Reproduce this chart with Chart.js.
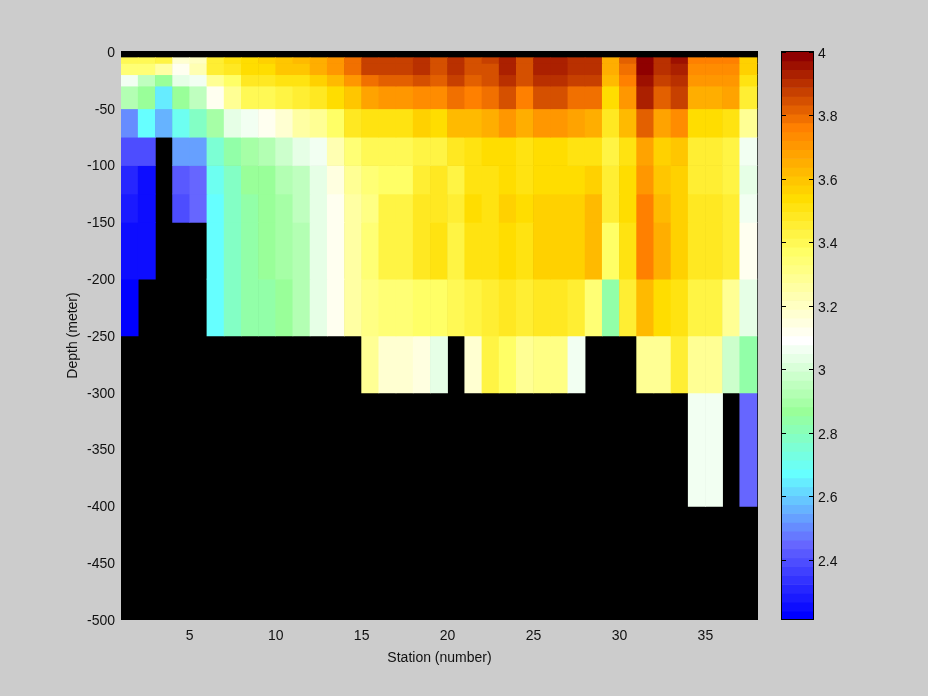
<!DOCTYPE html>
<html>
<head>
<meta charset="utf-8">
<title>Station section</title>
<script src="https://cdn.jsdelivr.net/npm/chart.js@4"></script>
<style>
  html, body { margin: 0; padding: 0; background: #cccccc; width: 928px; height: 696px; overflow: hidden; }
  canvas { position: absolute; top: 0; }
  #section { left: 0; }
  #colorbar { left: 764px; }
</style>
</head>
<body>
<canvas id="section" width="764" height="696"></canvas>
<canvas id="colorbar" width="164" height="696"></canvas>
<script>
// station columns, x runs from station n to station n + 1
const stations = [1,2,3,4,5,6,7,8,9,10,11,12,13,14,15,16,17,18,19,20,21,22,23,24,25,26,27,28,29,30,31,32,33,34,35,36,37];

// depth bands, one row of values each
const bandTop = [-5,-10,-20,-30,-50,-75,-100,-125,-150,-200,-250,-300];
const bandBottom = [-10,-20,-30,-50,-75,-100,-125,-150,-200,-250,-300,-400];

const row5 = [3.40,3.40,3.43,3.17,3.20,3.45,3.51,3.54,3.57,3.59,3.62,3.65,3.71,3.79,3.87,3.87,3.87,3.90,3.85,3.90,3.85,3.87,3.93,3.85,3.93,3.93,3.90,3.90,3.65,3.82,3.99,3.90,3.96,3.76,3.76,3.76,3.57];
const row10 = [3.34,3.34,3.26,3.12,3.23,3.45,3.48,3.54,3.54,3.59,3.59,3.65,3.71,3.79,3.87,3.87,3.87,3.90,3.85,3.90,3.85,3.85,3.93,3.85,3.93,3.93,3.90,3.90,3.65,3.79,3.99,3.90,3.93,3.73,3.73,3.73,3.57];
const row20 = [3.06,2.95,2.87,3.03,3.06,3.29,3.37,3.48,3.48,3.51,3.51,3.57,3.62,3.71,3.79,3.82,3.82,3.85,3.82,3.87,3.82,3.85,3.90,3.85,3.90,3.90,3.87,3.87,3.62,3.76,3.96,3.87,3.90,3.71,3.71,3.71,3.51];
const row30 = [2.92,2.87,2.64,2.87,2.95,3.12,3.29,3.40,3.40,3.43,3.45,3.48,3.54,3.59,3.68,3.71,3.71,3.73,3.73,3.79,3.76,3.79,3.85,3.76,3.85,3.85,3.79,3.79,3.54,3.71,3.93,3.82,3.87,3.65,3.65,3.68,3.45];
const row50 = [2.50,2.67,2.56,2.70,2.78,2.89,3.03,3.06,3.12,3.17,3.26,3.29,3.37,3.48,3.51,3.51,3.51,3.57,3.54,3.62,3.62,3.65,3.71,3.65,3.71,3.71,3.68,3.65,3.48,3.62,3.82,3.68,3.73,3.54,3.54,3.51,3.29];
const row75 = [2.39,2.39,null,2.53,2.53,2.75,2.84,2.89,2.92,2.98,3.03,3.06,3.23,3.34,3.40,3.40,3.40,3.43,3.43,3.48,3.51,3.54,3.54,3.51,3.54,3.54,3.51,3.51,3.43,3.51,3.68,3.57,3.59,3.45,3.45,3.43,3.06];
const row100 = [2.31,2.25,null,2.42,2.45,2.70,2.78,2.87,2.87,2.92,2.95,3.03,3.15,3.29,3.34,3.37,3.37,3.45,3.48,3.43,3.51,3.51,3.54,3.51,3.54,3.54,3.54,3.57,3.45,3.54,3.71,3.59,3.57,3.45,3.45,3.43,3.03];
const row125 = [2.28,2.25,null,2.39,2.45,2.67,2.78,2.84,2.87,2.89,2.95,3.03,3.12,3.26,3.31,3.43,3.43,3.48,3.48,3.45,3.54,3.51,3.57,3.54,3.57,3.57,3.57,3.62,3.45,3.54,3.76,3.62,3.57,3.48,3.48,3.45,3.06];
const row150 = [2.25,2.25,null,null,null,2.67,2.78,2.84,2.87,2.89,2.92,3.03,3.12,3.26,3.34,3.43,3.43,3.48,3.51,3.43,3.51,3.51,3.54,3.51,3.57,3.57,3.57,3.62,3.37,3.51,3.76,3.65,3.57,3.48,3.48,3.45,3.12];
const row200 = [2.22,null,null,null,null,2.67,2.78,2.84,2.84,2.87,2.92,3.03,3.12,3.26,3.31,3.34,3.34,3.37,3.37,3.40,3.43,3.45,3.48,3.45,3.48,3.48,3.45,3.34,2.84,3.45,3.62,3.54,3.51,3.43,3.43,3.29,3.03];
const row250 = [null,null,null,null,null,null,null,null,null,null,null,null,null,null,3.29,3.17,3.17,3.15,3.03,null,3.17,3.43,3.37,3.29,3.31,3.31,3.06,null,null,null,3.29,3.29,3.45,3.29,3.29,2.98,2.84];
const row300 = [null,null,null,null,null,null,null,null,null,null,null,null,null,null,null,null,null,null,null,null,null,null,null,null,null,null,null,null,null,null,null,null,null,3.06,3.06,null,2.45];
const rows = [row5,row10,row20,row30,row50,row75,row100,row125,row150,row200,row250,row300];

const xTicks = [5,10,15,20,25,30,35];
const yTicks = [0,-50,-100,-150,-200,-250,-300,-350,-400,-450,-500];
const barTicks = [4,3.8,3.6,3.4,3.2,3,2.8,2.6,2.4];

// colormap, top of the colorbar first
const cmap = [
  "#8f0000","#9d1000","#ab2000","#b93000","#c74000","#d55000","#e36000","#f17000",
  "#ff8000","#ff8c00","#ff9700","#ffa300","#ffae00","#ffba00","#ffc600","#ffd100",
  "#ffdd00","#ffe311","#ffe822","#ffee33","#fff444","#fff955","#ffff66","#ffff75",
  "#ffff84","#ffff94","#ffffa3","#ffffb2","#ffffc2","#ffffd1","#ffffe0","#fffff0",
  "#ffffff","#f2fff2","#e6ffe6","#d9ffd9","#ccffcc","#bfffbf","#b3ffb3","#a6ffa6",
  "#99ff99","#92ffa8","#8bffb6","#83ffc5","#7cffd4","#75ffe2","#6dfff1","#66ffff",
  "#66ecff","#66d9ff","#66c6ff","#66b3ff","#66a0ff","#668cff","#6679ff","#6666ff",
  "#5959ff","#4d4dff","#4040ff","#3333ff","#2626ff","#1a1aff","#0d0dff","#0000ff"
];
const cMax = 4;
const cMin = 2.21;

function colorFor(v) {
  const i = Math.floor((cMax - v) / (cMax - cMin) * cmap.length);
  return cmap[Math.max(0, Math.min(cmap.length - 1, i))];
}

const textFont = { family: "'Liberation Sans', Arial, sans-serif", size: 14 };
const textColor = "#111111";

// missing cells show the axes background
const blackBackground = {
  id: "blackBackground",
  beforeDraw(chart) {
    const a = chart.chartArea;
    chart.ctx.fillStyle = "#000000";
    chart.ctx.fillRect(a.left, a.top, a.right - a.left, a.bottom - a.top);
  }
};

// box and inward tick marks of the colorbar
const barFrame = {
  id: "barFrame",
  afterDraw(chart) {
    const a = chart.chartArea;
    const ctx = chart.ctx;
    const scale = chart.scales.y;
    ctx.save();
    ctx.strokeStyle = "#000000";
    ctx.lineWidth = 1;
    ctx.strokeRect(a.left + 0.5, a.top + 0.5, a.right - a.left - 1, a.bottom - a.top - 1);
    scale.ticks.forEach((t) => {
      const y = Math.round(scale.getPixelForValue(t.value)) + 0.5;
      ctx.beginPath();
      ctx.moveTo(a.left, y);
      ctx.lineTo(a.left + 5, y);
      ctx.moveTo(a.right - 5, y);
      ctx.lineTo(a.right, y);
      ctx.stroke();
    });
    ctx.restore();
  }
};

const sectionSets = rows.map((row, r) => {
  const cells = [];
  const colors = [];
  row.forEach((v, i) => {
    if (v === null) return;
    cells.push({ x: stations[i] + 0.5, y: [bandBottom[r], bandTop[r]] });
    colors.push(colorFor(v));
  });
  return { data: cells, backgroundColor: colors, borderWidth: 0 };
});

new Chart(document.getElementById("section"), {
  type: "bar",
  data: { datasets: sectionSets },
  plugins: [blackBackground],
  options: {
    responsive: false,
    animation: false,
    devicePixelRatio: 1,
    grouped: false,
    categoryPercentage: 1,
    barPercentage: 1,
    layout: { padding: { top: 51, right: 6 } },
    plugins: { legend: { display: false }, tooltip: { enabled: false } },
    scales: {
      x: {
        type: "linear",
        offset: false,
        min: 1,
        max: 38.06,
        grid: { display: false, drawTicks: false },
        border: { display: false },
        afterBuildTicks: (s) => { s.ticks = xTicks.map((v) => ({ value: v })); },
        afterFit: (s) => { s.height = 76; },
        ticks: { color: textColor, font: textFont, padding: 8, maxRotation: 0, autoSkip: false, callback: (v) => String(v) },
        title: { display: true, text: "Station (number)", color: textColor, font: textFont, padding: { bottom: 29 } }
      },
      y: {
        type: "linear",
        min: -500,
        max: 0.88,
        grid: { display: false, drawTicks: false },
        border: { display: false },
        afterBuildTicks: (s) => { s.ticks = yTicks.map((v) => ({ value: v })); },
        afterFit: (s) => { s.width = 121; },
        ticks: { color: textColor, font: textFont, padding: 6, labelOffset: 1, autoSkip: false, callback: (v) => String(v) },
        title: { display: true, text: "Depth (meter)", color: textColor, font: textFont, padding: { top: 65 } }
      }
    }
  }
});

// one floating bar per colormap level
const barSets = cmap.map((c, i) => {
  const step = (cMax - cMin) / cmap.length;
  return { data: [[cMax - (i + 1) * step, cMax - i * step]], backgroundColor: c, borderWidth: 0 };
});

new Chart(document.getElementById("colorbar"), {
  type: "bar",
  data: { labels: [""], datasets: barSets },
  plugins: [barFrame],
  options: {
    responsive: false,
    animation: false,
    devicePixelRatio: 1,
    grouped: false,
    categoryPercentage: 1,
    barPercentage: 1,
    layout: { padding: { top: 51, bottom: 76, left: 17 } },
    plugins: { legend: { display: false }, tooltip: { enabled: false } },
    scales: {
      x: { display: false },
      y: {
        position: "right",
        min: cMin,
        max: 4.003,
        grid: { display: false, drawTicks: false },
        border: { display: false },
        afterBuildTicks: (s) => { s.ticks = barTicks.map((v) => ({ value: v })); },
        afterFit: (s) => { s.width = 114; },
        ticks: { color: textColor, font: textFont, padding: 4, labelOffset: 2, autoSkip: false, callback: (v) => String(v) }
      }
    }
  }
});
</script>
</body>
</html>
